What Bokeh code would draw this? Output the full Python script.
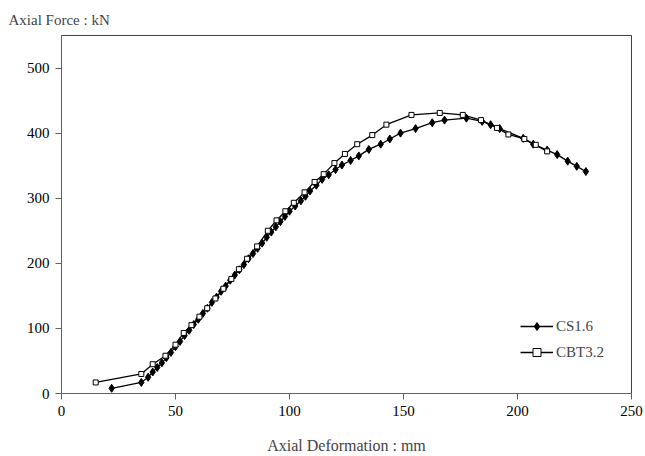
from bokeh.plotting import figure
from bokeh.models import FixedTicker, Range1d, Legend, LegendItem
from bokeh.embed import file_html
from bokeh.resources import INLINE

cs_x = [22, 35, 38, 40, 42, 44, 46, 48, 50, 52, 54, 56, 58, 60, 62, 64, 66, 68, 70, 72,
        74, 76, 78, 80, 82, 84, 86, 88, 90, 92, 94, 96, 98, 100, 102.5, 105, 107, 109,
        111.8, 114.3, 117.2, 120.2, 123, 126.8, 130.4, 134.8, 140, 144, 148.7, 155.3,
        162.6, 168, 177.6, 184.5, 188.2, 192.2, 202.5, 206.9, 213, 217.4, 222, 226, 230]
cs_y = [8, 17, 25, 33, 40, 47, 55, 63, 72, 80, 89, 97, 106, 114, 123, 131, 140, 148, 157, 165,
        174, 182, 190, 198, 207, 215, 223, 231, 240, 248, 256, 264, 272, 280, 288, 296, 303, 311,
        320, 329, 336, 344, 351, 358, 365, 375, 383, 391, 400, 407,
        416, 420, 423, 418, 413, 407, 392, 383, 374, 367, 357, 349, 341]

cbt_x = [15, 35, 40, 45.6, 50, 53.6, 57, 60.5, 63.9, 67.5, 71, 74.5, 77.8, 81.4, 85.8, 90.5,
         94.3, 98.2, 101.9, 106.6, 111, 115, 119.7, 124.3, 129.7, 136.3, 142.5, 153.5, 165.9,
         176, 184, 191, 196, 203, 208, 213]
cbt_y = [17, 30, 45, 58, 75, 93, 105, 118, 131, 146, 161, 176, 191, 207, 226, 250,
         266, 280, 293, 309, 325, 337, 354, 368, 383, 397, 413, 428, 431,
         428, 420, 408, 398, 391, 382, 372]

x_ticks = [0, 50, 100, 150, 200, 250]
y_ticks = [0, 100, 200, 300, 400, 500]

FONT = "Liberation Serif"

p = figure(width=645, height=456, output_backend="svg", toolbar_location=None,
           x_range=Range1d(0, 250), y_range=Range1d(0, 550),
           min_border_left=61, min_border_right=14, min_border_top=35, min_border_bottom=61)
p.background_fill_color = "white"
p.border_fill_color = "white"
p.outline_line_color = "#404040"
p.outline_line_width = 1
p.xgrid.visible = False
p.ygrid.visible = False

p.title.text = "Axial Force : kN"
p.title.text_font = FONT
p.title.text_font_size = "15px"
p.title.text_font_style = "normal"
p.title.align = "left"
p.title.offset = -53
p.title.standoff = 15

for ax in (p.xaxis[0], p.yaxis[0]):
    ax.axis_line_color = "#606060"
    ax.major_tick_line_color = "#606060"
    ax.minor_tick_line_color = None
    ax.major_tick_in = 0
    ax.major_tick_out = 6
    ax.major_label_text_font = FONT
    ax.major_label_text_font_size = "15px"
    ax.major_label_text_color = "black"

p.xaxis.ticker = FixedTicker(ticks=x_ticks)
p.yaxis.ticker = FixedTicker(ticks=y_ticks)
p.xaxis.major_label_standoff = 6
p.yaxis.major_label_standoff = 6
p.xaxis.axis_label = "Axial Deformation : mm"
p.xaxis.axis_label_text_font = FONT
p.xaxis.axis_label_text_font_size = "16px"
p.xaxis.axis_label_text_font_style = "normal"
p.xaxis.axis_label_standoff = 18

l1 = p.line(cs_x, cs_y, line_color="black", line_width=1.3)
m1 = p.scatter(cs_x, cs_y, marker="diamond", size=8, fill_color="black", line_color="black")
l2 = p.line(cbt_x, cbt_y, line_color="black", line_width=1.3)
m2 = p.scatter(cbt_x, cbt_y, marker="square", size=5, fill_color="white", line_color="black",
               line_width=1)

legend = Legend(items=[LegendItem(label="CS1.6", renderers=[l1, m1]),
                       LegendItem(label="CBT3.2", renderers=[l2, m2])],
                location=(459, 31))
legend.border_line_color = None
legend.background_fill_alpha = 0
legend.padding = 0
legend.margin = 0
legend.spacing = 6
legend.glyph_width = 33
legend.glyph_height = 20
legend.label_standoff = 3
legend.label_text_font = FONT
legend.label_text_font_size = "15px"
p.add_layout(legend, "center")

open("out.html", "w").write(file_html(p, INLINE))
